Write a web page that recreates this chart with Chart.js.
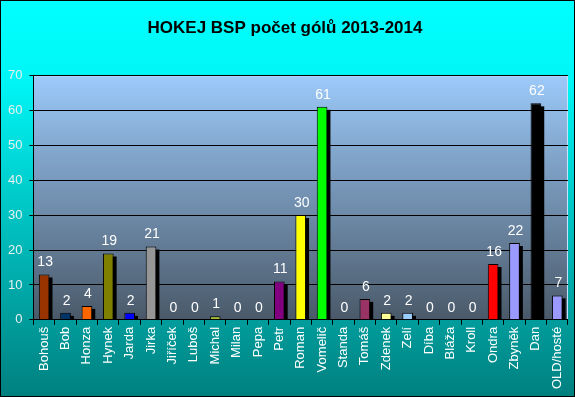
<!DOCTYPE html>
<html>
<head>
<meta charset="utf-8">
<script src="https://cdn.jsdelivr.net/npm/chart.js@4/dist/chart.umd.min.js"></script>
<style>
  body { margin: 0; background: #fff; }
  canvas { display: block; }
</style>
</head>
<body>
<canvas id="golyChart" width="575" height="397"></canvas>
<script>
// hraci a pocet golu
const hraci = ['Bohouš', 'Bob', 'Honza', 'Hynek', 'Jarda', 'Jirka', 'Jiříček', 'Luboš', 'Michal', 'Milan',
  'Pepa', 'Petr', 'Roman', 'Vomelič', 'Standa', 'Tomáš', 'Zdenek', 'Zelí', 'Díba', 'Bláža',
  'Kroll', 'Ondra', 'Zbyněk', 'Dan', 'OLD/hosté'];
const goly = [13, 2, 4, 19, 2, 21, 0, 0, 1, 0, 0, 11, 30, 61, 0, 6, 2, 2, 0, 0, 0, 16, 22, 62, 7];
const barvy = ['#993300', '#003366', '#ff6600', '#808000', '#0000ff', '#969696', '#808080', '#808080', '#a8c030', '#808080',
  '#808080', '#800080', '#ffff00', '#00ff00', '#808080', '#993366', '#ffff99', '#99ccff', '#808080', '#808080',
  '#808080', '#ff0000', '#9999ff', '#000000', '#9999ff'];
const osaY = [0, 10, 20, 30, 40, 50, 60, 70];

// pozadi celeho grafu + plochy grafu
const pozadi = {
  id: 'pozadi',
  beforeDraw(chart) {
    const ctx = chart.ctx;
    const a = chart.chartArea;
    ctx.save();
    let g = ctx.createLinearGradient(0, 0, 0, chart.height);
    g.addColorStop(0, '#00ffff');
    g.addColorStop(0.2, '#00f6f6');
    g.addColorStop(1, '#00807f');
    ctx.fillStyle = g;
    ctx.fillRect(0, 0, chart.width, chart.height);
    g = ctx.createLinearGradient(0, a.top, 0, a.bottom);
    g.addColorStop(0, '#9ccafa');
    g.addColorStop(1, '#4a5969');
    ctx.fillStyle = g;
    ctx.fillRect(a.left, a.top, a.right - a.left, a.bottom - a.top);
    ctx.strokeStyle = '#c8e4ff';
    ctx.lineWidth = 1;
    ctx.beginPath();
    ctx.moveTo(a.left, a.top + 0.5);
    ctx.lineTo(a.right - 0.5, a.top + 0.5);
    ctx.lineTo(a.right - 0.5, a.bottom);
    ctx.stroke();
    ctx.restore();
  },
  afterDraw(chart) {
    const ctx = chart.ctx;
    ctx.save();
    ctx.strokeStyle = '#000';
    ctx.lineWidth = 1;
    ctx.strokeRect(0.5, 0.5, chart.width - 1, chart.height - 1);
    ctx.restore();
  }
};

// stin pod sloupci (cerny obdelnik posunuty doprava dolu)
const stin = {
  id: 'stin',
  beforeDatasetsDraw(chart) {
    const ctx = chart.ctx;
    const meta = chart.getDatasetMeta(0);
    const a = chart.chartArea;
    ctx.save();
    ctx.beginPath();
    ctx.rect(a.left, a.top, a.right - a.left, a.bottom - a.top);
    ctx.clip();
    ctx.fillStyle = '#000';
    meta.data.forEach((bar, i) => {
      if (!goly[i]) return;
      const p = bar.getProps(['x', 'y', 'base', 'width'], true);
      ctx.fillRect(p.x - p.width / 2 + 3, p.y + 3, p.width, p.base - p.y);
    });
    ctx.restore();
  }
};

// popisky hodnot nad sloupci
const popisky = {
  id: 'popisky',
  afterDatasetsDraw(chart) {
    const ctx = chart.ctx;
    const meta = chart.getDatasetMeta(0);
    ctx.save();
    ctx.fillStyle = '#ffffff';
    ctx.font = '14px Arial, "Liberation Sans", sans-serif';
    ctx.textAlign = 'center';
    ctx.textBaseline = 'bottom';
    meta.data.forEach((bar, i) => {
      ctx.fillText(String(goly[i]), bar.x + 1, bar.y - 5);
    });
    ctx.restore();
  }
};

const ctx = document.getElementById('golyChart').getContext('2d');
new Chart(ctx, {
  type: 'bar',
  data: {
    labels: hraci,
    datasets: [{
      data: goly,
      backgroundColor: barvy,
      borderColor: '#000',
      borderWidth: 1,
      borderSkipped: 'bottom',
      barPercentage: 0.5,
      categoryPercentage: 1
    }]
  },
  options: {
    responsive: false,
    animation: false,
    devicePixelRatio: 1,
    layout: { padding: { left: 1, right: 6, top: 0, bottom: 6 } },
    plugins: {
      legend: { display: false },
      tooltip: { enabled: false },
      title: {
        display: true,
        text: 'HOKEJ BSP počet gólů 2013-2014',
        color: '#000',
        font: { family: 'Arial, "Liberation Sans", sans-serif', size: 17, weight: 'bold' },
        padding: { top: 18, bottom: 37 }
      }
    },
    scales: {
      x: {
        grid: {
          display: true,
          drawOnChartArea: false,
          offset: true,
          color: '#000',
          tickLength: 5
        },
        border: { color: '#000', width: 1 },
        ticks: {
          color: '#ffffff',
          minRotation: 90,
          maxRotation: 90,
          autoSkip: false,
          padding: 2,
          font: { family: 'Arial, "Liberation Sans", sans-serif', size: 13 }
        }
      },
      y: {
        min: 0,
        max: 70,
        afterBuildTicks(axis) {
          axis.ticks = osaY.map(v => ({ value: v }));
        },
        grid: {
          color: '#000',
          tickLength: 4
        },
        border: { color: '#000', width: 1 },
        ticks: {
          color: '#e8f0f0',
          padding: 7,
          font: { family: 'Arial, "Liberation Sans", sans-serif', size: 13 }
        }
      }
    }
  },
  plugins: [pozadi, stin, popisky]
});
</script>
</body>
</html>
